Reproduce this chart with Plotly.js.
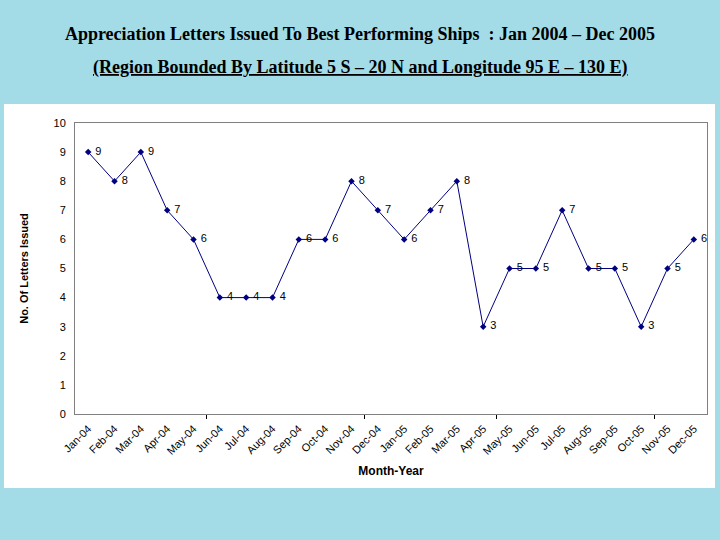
<!DOCTYPE html>
<html>
<head>
<meta charset="utf-8">
<script src="https://cdn.plot.ly/plotly-3.0.1.min.js"></script>
<style>
  html, body { margin: 0; padding: 0; background: #a3dbe7; }
  #plot { width: 720px; height: 540px; }
</style>
</head>
<body>
<div id="plot"></div>
<script>
/* Appreciation letters, month by month */

var months = ["Jan-04", "Feb-04", "Mar-04", "Apr-04", "May-04", "Jun-04",
              "Jul-04", "Aug-04", "Sep-04", "Oct-04", "Nov-04", "Dec-04",
              "Jan-05", "Feb-05", "Mar-05", "Apr-05", "May-05", "Jun-05",
              "Jul-05", "Aug-05", "Sep-05", "Oct-05", "Nov-05", "Dec-05"];

var letters = [9, 8, 9, 7, 6, 4, 4, 4, 6, 6, 8, 7,
               6, 7, 8, 3, 5, 5, 7, 5, 5, 3, 5, 6];

// Excel only put tick marks at a few places between months
var majorTicks = [4.5, 10.5, 15.5, 21.5];

var trace1 =
{
  x: months,
  y: letters,
  type: "scatter",
  mode: "lines+markers+text",
  text: letters,
  texttemplate: "\u00a0%{text}",
  textposition: "middle right",
  textfont: { family: "Liberation Sans, Arial", size: 11, color: "#000000" },
  cliponaxis: false,
  marker:
  {
    symbol: "diamond",
    size: 5,
    color: "#000080"
  },
  line:
  {
    color: "#000080",
    width: 1
  },
  hoverinfo: "x+y"
};

// empty helper trace so the overlay axis with the tick marks gets drawn
var trace2 =
{
  x: [],
  y: [],
  xaxis: "x2",
  type: "scatter",
  showlegend: false
};

var layout = {
  width: 720,
  height: 540,
  showlegend: false,
  paper_bgcolor: "#a3dbe7",
  plot_bgcolor: "#c0c0c0",
  margin: { l: 75, r: 13, t: 123, b: 126 },
  title: {
    text: "Appreciation Letters Issued To Best Performing Ships  : Jan 2004 \u2013 Dec 2005",
    font: { family: "Liberation Serif, Times New Roman", size: 18, color: "#000000", weight: "bold" },
    x: 0.5,
    xref: "container",
    xanchor: "center",
    y: 1 - 34 / 540,
    yanchor: "middle"
  },
  annotations: [
    {
      text: "<u>(Region Bounded By Latitude 5 S \u2013 20 N and Longitude 95 E \u2013 130 E)</u>",
      font: { family: "Liberation Serif, Times New Roman", size: 18, color: "#000000", weight: "bold" },
      xref: "paper",
      yref: "paper",
      x: 285 / 632,
      y: 347 / 291,
      xanchor: "center",
      yanchor: "middle",
      showarrow: false
    }
  ],
  shapes: [
    {
      // white chart box behind the plot
      type: "rect",
      xref: "paper",
      yref: "paper",
      x0: -71 / 632,
      x1: 640 / 632,
      y0: -74 / 291,
      y1: 310 / 291,
      fillcolor: "#ffffff",
      line: { width: 0 },
      layer: "below"
    }
  ],
  xaxis: {
    type: "category",
    range: [-0.5, 23.5],
    tickangle: -45,
    ticks: "",
    ticklabelstandoff: 3,
    tickfont: { family: "Liberation Sans, Arial", size: 11, color: "#000000" },
    showgrid: false,
    zeroline: false,
    showline: true,
    linecolor: "#808080",
    linewidth: 1,
    mirror: true,
    title: {
      text: "Month-Year",
      font: { family: "Liberation Sans, Arial", size: 12, color: "#000000", weight: "bold" },
      standoff: 10
    }
  },
  xaxis2: {
    overlaying: "x",
    anchor: "y",
    side: "bottom",
    range: [-0.5, 23.5],
    tickvals: majorTicks,
    showticklabels: false,
    ticks: "outside",
    ticklen: 4,
    tickcolor: "#000000",
    showgrid: false,
    zeroline: false,
    showline: false
  },
  yaxis: {
    range: [0, 10],
    dtick: 1,
    ticks: "",
    ticklabelstandoff: 6,
    tickfont: { family: "Liberation Sans, Arial", size: 11, color: "#000000" },
    showgrid: false,
    zeroline: false,
    showline: true,
    linecolor: "#808080",
    linewidth: 1,
    mirror: true,
    title: {
      text: "No. Of Letters Issued",
      font: { family: "Liberation Sans, Arial", size: 11, color: "#000000", weight: "bold" },
      standoff: 22
    }
  }
};

var data = [trace1, trace2];

Plotly.newPlot("plot", data, layout, { displayModeBar: false });
</script>
</body>
</html>
